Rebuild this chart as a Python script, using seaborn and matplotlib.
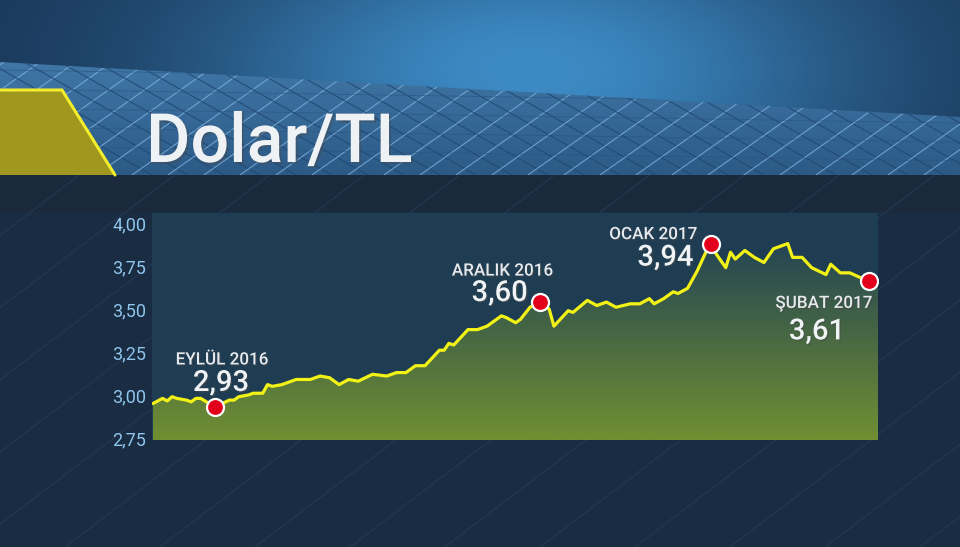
import numpy as np
import pandas as pd
import seaborn as sns
import matplotlib.pyplot as plt
import matplotlib.patheffects as pe
from matplotlib.patches import Polygon, Rectangle
from matplotlib.ticker import FuncFormatter

# gunluk kur (Eylul 2016 - Subat 2017)
gun = [0, 1, 2, 3, 4, 5, 7, 8, 9, 10,
       13, 16, 17, 18, 20, 21, 23, 24, 25, 27,
       30, 33, 35, 37, 39, 41, 43, 46, 49, 51,
       53, 55, 57, 60, 61, 62, 63, 66, 68, 70,
       71, 73, 74, 76, 77, 79, 81, 83, 84, 87,
       88, 91, 93, 95, 97, 100, 102, 104, 105, 107,
       109, 110, 112, 114, 116, 117, 118, 120, 121, 122,
       124, 126, 128, 130, 133, 134, 136, 138, 141, 142,
       144, 146, 150]
kur = [2.95, 2.965, 2.98, 2.965, 2.99, 2.98, 2.97, 2.96, 2.98, 2.98,
       2.93, 2.97, 2.97, 2.99, 3.00, 3.01, 3.01, 3.06, 3.05, 3.06,
       3.09, 3.09, 3.11, 3.10, 3.06, 3.09, 3.08, 3.12, 3.11, 3.13,
       3.13, 3.17, 3.17, 3.26, 3.26, 3.30, 3.29, 3.38, 3.38, 3.40,
       3.42, 3.46, 3.45, 3.42, 3.44, 3.51, 3.54, 3.50, 3.40, 3.49,
       3.48, 3.55, 3.52, 3.54, 3.51, 3.53, 3.53, 3.56, 3.53, 3.56,
       3.60, 3.59, 3.62, 3.72, 3.84, 3.88, 3.82, 3.74, 3.83, 3.79,
       3.84, 3.80, 3.77, 3.85, 3.88, 3.80, 3.80, 3.74, 3.70, 3.76,
       3.71, 3.71, 3.66]

vurgu_gun = [13, 81, 117, 150]
vurgu_ay = ["EYLÜL 2016", "ARALIK 2016", "OCAK 2017", "ŞUBAT 2017"]
vurgu_deger = ["2,93", "3,60", "3,94", "3,61"]

y_ticks = [2.75, 3.00, 3.25, 3.50, 3.75, 4.00]

df = pd.DataFrame({"gun": gun, "kur": kur})
df_v = df[df["gun"].isin(vurgu_gun)]

sns.set_style("dark")
plt.rcParams['font.family'] = ['Roboto', 'DejaVu Sans']

W, H = 960, 547
fig = plt.figure(figsize=(W / 100, H / 100), dpi=100)

# ---- arka plan (piksel koordinatlari)
bg = fig.add_axes([0, 0, 1, 1], zorder=0)
bg.set_xlim(0, W)
bg.set_ylim(H, 0)
bg.axis('off')

yy, xx = np.mgrid[0:H, 0:W]
glow = np.exp(-(((xx - 530) / 330.0) ** 2 + ((yy - 70) / 150.0) ** 2))
koyu = np.array([0x19, 0x36, 0x57]) / 255
acik = np.array([0x3d, 0x8b, 0xc5]) / 255
img = koyu + (acik - koyu) * glow[..., None]
bg.imshow(img, extent=[0, W, H, 0], aspect='auto', zorder=0)

# alt koyu bolge
bg.add_patch(Rectangle((0, 175), W, H - 175, fc='#192c42', ec='none', zorder=1))
bg.add_patch(Rectangle((0, 175), W, 37, fc='#1a2a3c', ec='none', zorder=1))
for c in np.arange(-600, 1400, 95):
    bg.plot([c, c + 500], [H, H - 380], color='#3a5878', lw=0.7, alpha=0.35, zorder=1.5)

# ag desenli bant
band = Polygon([(0, 62), (W, 117), (W, 175), (0, 175)], closed=True,
               fc='none', ec='none', zorder=2)
bg.add_patch(band)
grad = np.linspace(0, 1, 100)[:, None, None]
ust = np.array([0x40, 0x77, 0xa6]) / 255
alt = np.array([0x2c, 0x5a, 0x87]) / 255
band_img = ust + (alt - ust) * grad
bim = bg.imshow(band_img, extent=[0, W, 175, 62], aspect='auto', zorder=2)
bim.set_clip_path(band)
for c in np.arange(-300, 1300, 36):
    l1, = bg.plot([c, c + 160], [175, 62], color='#7cb0dd', lw=0.8, alpha=0.8, zorder=3)
    l1.set_clip_path(band)
    l2, = bg.plot([c, c + 200], [62, 175], color='#1f4670', lw=0.8, alpha=0.8, zorder=3)
    l2.set_clip_path(band)
for yh in np.arange(80, 175, 19):
    l3, = bg.plot([0, W], [yh - 10, yh + 5], color='#2a527c', lw=0.6, alpha=0.6, zorder=3)
    l3.set_clip_path(band)

# sari sekil
bg.add_patch(Polygon([(0, 90), (62, 90), (115, 175), (0, 175)], closed=True,
                     fc='#a0971f', ec='none', zorder=4))
bg.plot([0, 62, 115], [90, 90, 175], color='#f2ee2c', lw=2.2, zorder=5,
        solid_joinstyle='miter')

# baslik
bg.text(146, 162, "Dolar/TL", fontsize=49, fontweight='medium', color='#eef2f5',
        ha='left', va='baseline', zorder=6,
        path_effects=[pe.withSimplePatchShadow(offset=(1.5, -1.5), alpha=0.4)])

# ---- grafik
ax = fig.add_axes([152 / W, 1 - 440 / H, 726 / W, 227 / H], zorder=2)
ax.set_facecolor('#1e3d53')

x0, x1 = -0.2, 151.9
y0, y1 = 2.738, 4.058

x_ext = np.append(df["gun"].values, x1)
y_ext = np.append(df["kur"].values, df["kur"].values[-1])
poly = ax.fill_between(x_ext, y_ext, y0, color='none', lw=0)

g = np.linspace(0, 1, 200)[:, None, None]
alt_renk = np.array([0x70, 0x8f, 0x32]) / 255
ust_renk = np.array([0x1f, 0x40, 0x56]) / 255
fill_img = alt_renk + (ust_renk - alt_renk) * np.clip(g * 1.08, 0, 1)
im = ax.imshow(fill_img, extent=[x0, x1, y0, y1], aspect='auto', origin='lower', zorder=1)
im.set_clip_path(poly.get_paths()[0], transform=ax.transData)

sns.lineplot(data=df, x="gun", y="kur", color='#f3f216', linewidth=2.3, ax=ax, zorder=3)
sns.scatterplot(data=df_v, x="gun", y="kur", s=150, color='#e2001a', edgecolor='white',
                linewidth=1.6, ax=ax, zorder=5)

# etiketler (piksel ofsetleri)
ay_ofset = [(7, 47), (-37, 31), (-58, 9), (-45, -22)]
deger_ofset = [(6, 24), (-40, 9), (-46, -14), (-52, -50)]
golge = [pe.withSimplePatchShadow(offset=(1, -1), alpha=0.5)]
for gn, ay, dg, ao, do in zip(vurgu_gun, vurgu_ay, vurgu_deger, ay_ofset, deger_ofset):
    yv = df.loc[df["gun"] == gn, "kur"].values[0]
    ax.annotate(ay, (gn, yv), xytext=ao, textcoords='offset pixels', ha='center',
                va='center', fontsize=12.3, fontweight='medium', color='#e6eaee',
                path_effects=golge, zorder=6)
    ax.annotate(dg, (gn, yv), xytext=do, textcoords='offset pixels', ha='center',
                va='center', fontsize=21, fontweight='medium', color='#f0f3f5',
                path_effects=golge, zorder=6)

ax.set_xlim(x0, x1)
ax.set_ylim(y0, y1)
ax.set_yticks(y_ticks)
ax.yaxis.set_major_formatter(FuncFormatter(lambda v, p: f"{v:.2f}".replace('.', ',')))
ax.set_xticks([])
ax.set_xlabel("")
ax.set_ylabel("")
ax.grid(False)
ax.tick_params(axis='y', length=0, pad=4, labelcolor='#8fc4ec', labelsize=13)
for s in ax.spines.values():
    s.set_visible(False)

fig.savefig("out.png", dpi=100)
